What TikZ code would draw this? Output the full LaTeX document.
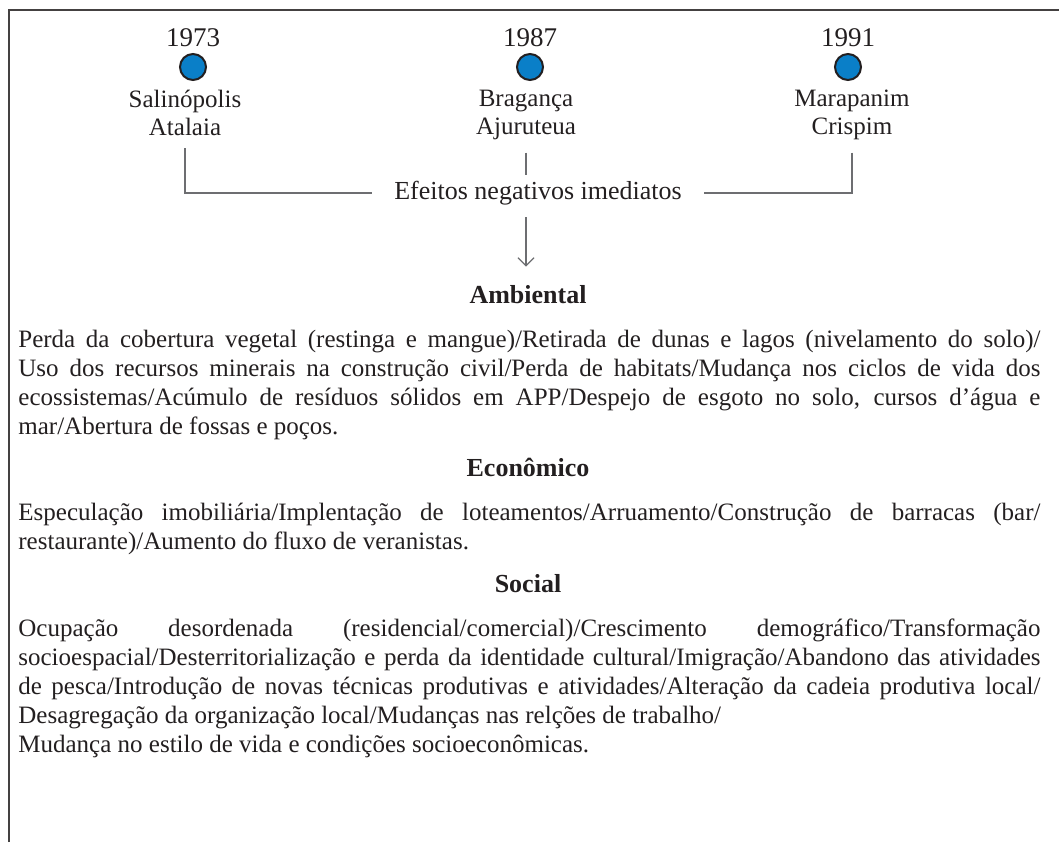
\documentclass[tikz,border=0pt]{standalone}
\usepackage{fontspec}
\setmainfont{Liberation Serif}
\usetikzlibrary{positioning,arrows.meta}

\definecolor{dotblue}{HTML}{0A7FC8}
\definecolor{ink}{HTML}{231F20}
\definecolor{linegray}{HTML}{6D6E71}

\begin{document}
\begin{tikzpicture}[x=0.5pt, y=-0.5pt,
    dot/.style={circle, draw=ink, fill=dotblue, line width=1pt, minimum size=13pt, inner sep=0pt},
    yearlbl/.style={font=\fontsize{13.5}{15}\selectfont, text=ink, inner sep=0pt},
    placelbl/.style={align=center, font=\fontsize{12.5}{14}\selectfont, text=ink, inner sep=0pt},
    heading/.style={font=\fontsize{13}{15}\selectfont\bfseries, text=ink, inner sep=0pt, anchor=base},
    bodytext/.style={text width=511pt, align=justify, font=\fontsize{12.5}{14.5}\selectfont, text=ink,
        inner sep=0pt, anchor=base west,
        execute at begin node={\tolerance=9999\hyphenpenalty=10000\emergencystretch=2em}},
    link/.style={draw=linegray, line width=0.6pt}]
    \useasboundingbox (0,0) rectangle (1059,842);
    \draw[draw=ink!85, line width=0.8pt] (9,842) -- (9,10) -- (1059,10);

    % linha do tempo
    \node[dot] (d1973) at (193,67) {};
    \node[dot] (d1987) at (530,67) {};
    \node[dot] (d1991) at (848,67) {};
    \node[yearlbl, above=3pt of d1973] (y1973) {1973};
    \node[yearlbl, above=3pt of d1987] (y1987) {1987};
    \node[yearlbl, above=3pt of d1991] (y1991) {1991};
    \node[placelbl, below=4.5pt of d1973, xshift=-4pt] (p1973) {Salinópolis\\Atalaia};
    \node[placelbl, below=4.5pt of d1987, xshift=-2pt] (p1987) {Bragança\\Ajuruteua};
    \node[placelbl, below=4.5pt of d1991, xshift=2pt] (p1991) {Marapanim\\Crispim};

    \node[font=\fontsize{13}{15}\selectfont, text=ink, inner xsep=11pt, inner ysep=3pt] (efeitos) at (538,193) {Efeitos negativos imediatos};

    \draw[link, shorten <=6pt] (p1973.south) |- (efeitos.west);
    \draw[link, shorten <=6pt] (p1991.south) |- (efeitos.east);
    \draw[link, shorten <=6pt] (p1987.south) -- (p1987.south |- efeitos.north);

    % efeitos
    \node[heading] (hamb) at (528,303) {Ambiental};
    \draw[link, -{Straight Barb[length=4pt, width=8pt]}, shorten <=3pt, shorten >=9pt]
        (p1987.south |- efeitos.south) -- (p1987.south |- hamb.north);
    \node[bodytext] (tamb) at (18,347) {Perda da cobertura vegetal (restinga e mangue)/Retirada de dunas e lagos (nivelamento do solo)/\linebreak
        Uso dos recursos minerais na construção civil/Perda de habitats/Mudança nos ciclos de vida dos\linebreak
        ecossistemas/Acúmulo de resíduos sólidos em APP/Despejo de esgoto no solo, cursos d’água e\linebreak
        mar/Abertura de fossas e poços.};

    \node[heading] (heco) at (528,476) {Econômico};
    \node[bodytext] (teco) at (18,520) {Especulação imobiliária/Implentação de loteamentos/Arruamento/Construção de barracas (bar/\linebreak
        restaurante)/Aumento do fluxo de veranistas.};

    \node[heading] (hsoc) at (528,592) {Social};
    \node[bodytext] (tsoc) at (18,636) {Ocupação desordenada (residencial/comercial)/Crescimento demográfico/Transformação\linebreak
        socioespacial/Desterritorialização e perda da identidade cultural/Imigração/Abandono das atividades\linebreak
        de pesca/Introdução de novas técnicas produtivas e atividades/Alteração da cadeia produtiva local/\linebreak
        Desagregação da organização local/Mudanças nas relções de trabalho/\\
        Mudança no estilo de vida e condições socioeconômicas.};
\end{tikzpicture}
\end{document}
